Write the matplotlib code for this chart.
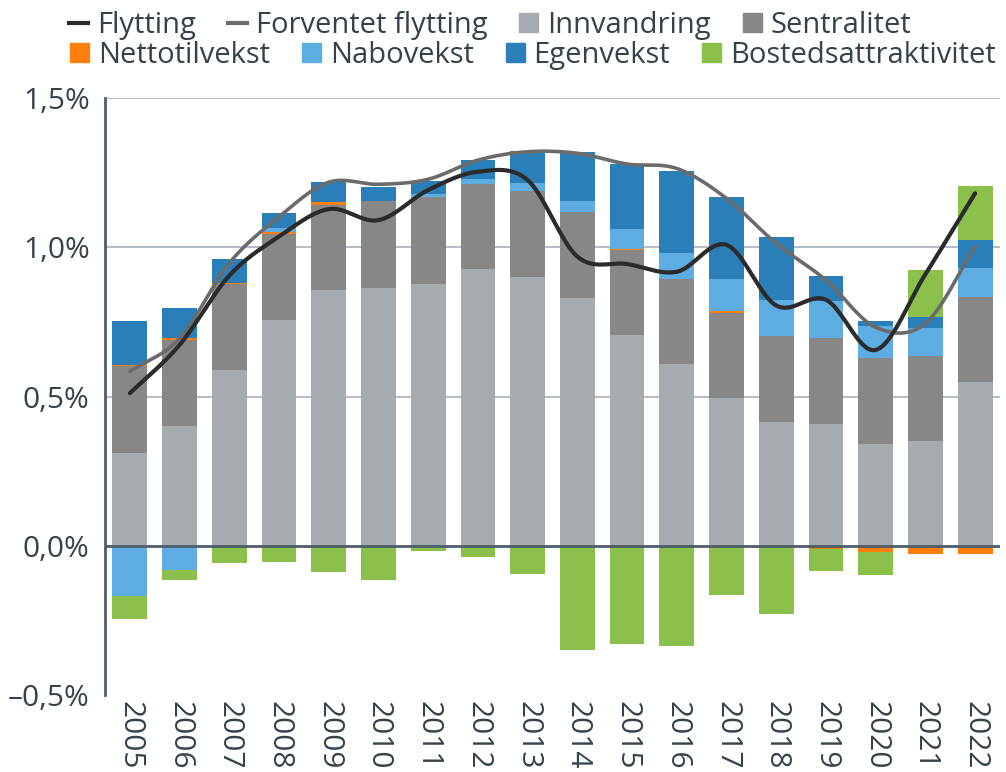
import matplotlib
matplotlib.use('Agg')
import matplotlib.pyplot as plt
import numpy as np
from matplotlib.patches import Patch
from matplotlib.lines import Line2D

plt.rcParams['font.family'] = ['Open Sans', 'DejaVu Sans']

years = [str(y) for y in range(2005, 2023)]

# components, percent
innvandring = [0.312, 0.402, 0.589, 0.757, 0.857, 0.865, 0.878, 0.927, 0.901, 0.830,
               0.706, 0.609, 0.495, 0.415, 0.408, 0.341, 0.351, 0.549]
sentralitet = [0.290, 0.288, 0.288, 0.288, 0.285, 0.289, 0.289, 0.286, 0.288, 0.289,
               0.285, 0.286, 0.286, 0.288, 0.288, 0.288, 0.285, 0.285]
nettotilvekst = [0.005, 0.005, 0.003, 0.007, 0.009, 0.002, 0.002, 0.0, -0.004, -0.004,
                 0.002, 0.0, 0.004, -0.003, -0.010, -0.020, -0.027, -0.027]
nabovekst = [-0.167, -0.080, -0.004, 0.011, 0.0, -0.003, 0.008, 0.016, 0.028, 0.036,
             0.067, 0.087, 0.109, 0.121, 0.124, 0.107, 0.094, 0.097]
egenvekst = [0.146, 0.102, 0.081, 0.052, 0.068, 0.047, 0.046, 0.063, 0.105, 0.164,
             0.219, 0.273, 0.274, 0.210, 0.084, 0.017, 0.037, 0.093]
bostedsattraktivitet = [-0.077, -0.036, -0.052, -0.053, -0.089, -0.113, -0.019, -0.036, -0.092, -0.346,
                        -0.330, -0.337, -0.164, -0.225, -0.074, -0.077, 0.157, 0.181]

flytting = [0.511, 0.673, 0.905, 1.036, 1.128, 1.091, 1.192, 1.253, 1.225, 0.969,
            0.944, 0.918, 1.008, 0.805, 0.824, 0.656, 0.910, 1.181]
forventet = [0.584, 0.695, 0.947, 1.102, 1.218, 1.211, 1.228, 1.292, 1.320, 1.315,
             1.279, 1.264, 1.164, 1.013, 0.890, 0.732, 0.745, 1.002]

series = [
    ('Innvandring', innvandring, '#a6abaf'),
    ('Sentralitet', sentralitet, '#878787'),
    ('Nettotilvekst', nettotilvekst, '#ff7f0e'),
    ('Nabovekst', nabovekst, '#5dade2'),
    ('Egenvekst', egenvekst, '#2a7fb8'),
    ('Bostedsattraktivitet', bostedsattraktivitet, '#8bc14a'),
]

text_col = '#34424c'


def smooth(y, n=24):
    # catmull-rom through the points, like excel's smoothed line
    y = np.asarray(y, dtype=float)
    x = np.arange(len(y), dtype=float)
    px = np.concatenate([[2 * x[0] - x[1]], x, [2 * x[-1] - x[-2]]])
    py = np.concatenate([[2 * y[0] - y[1]], y, [2 * y[-1] - y[-2]]])
    xs, ys = [], []
    t = np.linspace(0, 1, n, endpoint=False)
    for i in range(1, len(px) - 2):
        for arr, out in ((px, xs), (py, ys)):
            p0, p1, p2, p3 = arr[i - 1], arr[i], arr[i + 1], arr[i + 2]
            out.extend(0.5 * (2 * p1 + (-p0 + p2) * t + (2 * p0 - 5 * p1 + 4 * p2 - p3) * t ** 2
                              + (-p0 + 3 * p1 - 3 * p2 + p3) * t ** 3))
    xs.append(x[-1])
    ys.append(y[-1])
    return np.array(xs), np.array(ys)


fig = plt.figure(figsize=(10.06, 7.72), dpi=100)
ax = fig.add_axes([0.1044, 0.0997, 0.8896, 0.7733])

x = np.arange(len(years))
pos = np.zeros(len(years))
neg = np.zeros(len(years))
for name, vals, col in series:
    v = np.array(vals)
    base = np.where(v >= 0, pos, neg)
    ax.bar(x, v, 0.7, bottom=base, color=col, linewidth=0, zorder=2)
    pos = pos + np.where(v >= 0, v, 0)
    neg = neg + np.where(v < 0, v, 0)

sx, sy = smooth(forventet)
ax.plot(sx, sy, color='#6b6b6b', lw=2.6, zorder=3, solid_capstyle='round')
sx, sy = smooth(flytting)
ax.plot(sx, sy, color='#2b2b2b', lw=3, zorder=4, solid_capstyle='round')

ax.set_xlim(-0.5, len(years) - 0.5)
ax.set_ylim(-0.5, 1.5)
ax.set_yticks([-0.5, 0, 0.5, 1.0, 1.5])
ax.set_yticklabels(['–0,5%', '0,0%', '0,5%', '1,0%', '1,5%'])
ax.set_xticks(x)
ax.set_xticklabels(years, rotation=-90)
ax.tick_params(axis='y', length=0, pad=11, labelsize=21.5, labelcolor=text_col)
ax.tick_params(axis='x', length=0, pad=4, labelsize=21.5, labelcolor=text_col)

for g in [0.5, 1.0, 1.5]:
    ax.axhline(g, color='#aeb8c0', lw=1.3, zorder=1)
ax.axhline(0, color='#4d5e6a', lw=2, zorder=5)

for s in ['top', 'right', 'bottom']:
    ax.spines[s].set_visible(False)
ax.spines['left'].set_color('#4d5e6a')
ax.spines['left'].set_linewidth(2)

row1 = [Line2D([0], [0], color='#2b2b2b', lw=3),
        Line2D([0], [0], color='#6b6b6b', lw=3),
        Patch(color='#a6abaf'), Patch(color='#878787')]
lab1 = ['Flytting', 'Forventet flytting', 'Innvandring', 'Sentralitet']
row2 = [Patch(color='#ff7f0e'), Patch(color='#5dade2'), Patch(color='#2a7fb8'), Patch(color='#8bc14a')]
lab2 = ['Nettotilvekst', 'Nabovekst', 'Egenvekst', 'Bostedsattraktivitet']

kw = dict(ncol=4, frameon=False, fontsize=21, handlelength=0.65, handleheight=0.65,
          handletextpad=0.3, columnspacing=1.1, labelcolor=text_col,
          borderpad=0, borderaxespad=0, loc='upper left')
leg1 = fig.legend(row1, lab1, bbox_to_anchor=(0.069, 0.986), **kw)
leg2 = fig.legend(row2, lab2, bbox_to_anchor=(0.070, 0.947), **kw)

fig.savefig('out.png', dpi=100)
